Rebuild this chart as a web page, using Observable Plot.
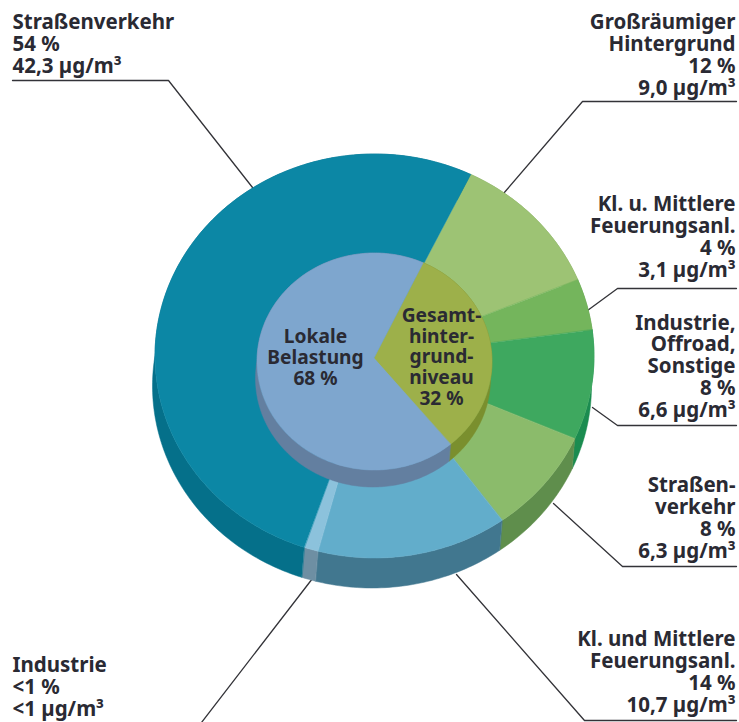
<!DOCTYPE html>
<html lang="de">
<head>
<meta charset="utf-8">
<title>Feinstaubbelastung nach Quellen</title>
<script src="https://cdn.jsdelivr.net/npm/d3@7"></script>
<script src="https://cdn.jsdelivr.net/npm/@observablehq/plot@0.6"></script>
<style>
  html, body { margin: 0; background: #fff; }
  svg { display: block; }
</style>
</head>
<body>
<div id="chart"></div>
<script>
// Source shares, clockwise from the upper right of the ring
const sourceIds = ["grossraum", "feuerungH", "industrieH", "verkehrH", "feuerungL", "industrieL", "verkehrL"];
const concentrations = [9.0, 3.1, 6.6, 6.3, 10.7, 0.8, 42.3];
const sourceLabels = [
  "Großräumiger\nHintergrund\n12 %\n9,0 µg/m³",
  "Kl. u. Mittlere\nFeuerungsanl.\n4 %\n3,1 µg/m³",
  "Industrie,\nOffroad,\nSonstige\n8 %\n6,6 µg/m³",
  "Straßen-\nverkehr\n8 %\n6,3 µg/m³",
  "Kl. und Mittlere\nFeuerungsanl.\n14 %\n10,7 µg/m³",
  "Industrie\n<1 %\n<1 µg/m³",
  "Straßenverkehr\n54 %\n42,3 µg/m³"
];
const groupIds = ["hintergrund", "lokal"];
const groupShares = [32, 68];
const groupLabels = ["Gesamt-\nhinter-\ngrund-\nniveau\n32 %", "Lokale\nBelastung\n68 %"];

// Styling and layout
const topColors  = ["#9dc374", "#74b55c", "#3ea85f", "#8bbb6b", "#62adcb", "#8cc2dc", "#0c87a5"];
const wallColors = ["#7fa65c", "#5a9a48", "#1b8c50", "#5f8e4c", "#41778f", "#6e8fa3", "#05708a"];
const groupTop   = ["#9db04a", "#7ea6ce"];
const groupWall  = ["#7a8f2e", "#637fa0"];
const ringStart = 26;
const discStart = 24.5;
const ink = "#2a2a33";

const ring  = {cx: 374.5, cy: 356,   rx: 219.5, ry: 202,   dx: -2.5, depth: 30};
const disc  = {cx: 374.5, cy: 361.5, rx: 117.5, ry: 108.5, dx: -1.5, depth: 17};
const apex  = {x: 374, y: 358};

// Turn a list of values into [start, end] angles around the ellipse
function spans(values, start) {
  const total = d3.sum(values);
  let a = start;
  return values.map(v => {
    const s = [a, a + v / total * 360];
    a = s[1];
    return s;
  });
}

// The near side of the tilted ring is slightly stretched by perspective
const foreshorten = deg => deg + 3 * (1 - Math.cos((deg - ringStart) * Math.PI / 180));

const project = (e, deg, dx = 0, dy = 0) => {
  const t = deg * Math.PI / 180;
  return {x: e.cx + dx + e.rx * Math.sin(t), y: e.cy + dy - e.ry * Math.cos(t)};
};

function wedgeRows(e, span, color, warp) {
  const n = Math.max(2, Math.ceil(span[1] - span[0]));
  return d3.range(n + 1).map(i => {
    const p = project(e, warp(span[0] + (span[1] - span[0]) * i / n));
    return {x1: apex.x, y1: apex.y, x2: p.x, y2: p.y, color};
  });
}

function wallRows(e, span, color, warp) {
  const n = Math.max(2, Math.ceil(span[1] - span[0]));
  return d3.range(n + 1).map(i => {
    const a = warp(span[0] + (span[1] - span[0]) * i / n);
    const p = project(e, a), q = project(e, a, e.dx, e.depth);
    return {x1: p.x, y1: p.y, x2: q.x, y2: q.y, color};
  });
}

const ringSpans = spans(concentrations, ringStart);
const discSpans = spans(groupShares, discStart);
const flat = d => d;

const ringWalls = ringSpans.flatMap((s, i) => wallRows(ring, s, wallColors[i], foreshorten));
const ringTops  = ringSpans.flatMap((s, i) => wedgeRows(ring, s, topColors[i], foreshorten));
const discWalls = discSpans.flatMap((s, i) => wallRows(disc, s, groupWall[i], flat));
const discTops  = discSpans.flatMap((s, i) => wedgeRows(disc, s, groupTop[i], flat));

// Leader lines running from each caption to its ring segment
const leaders = [
  {id: "verkehrL",   pts: [[12, 80], [168, 80], [252, 187]]},
  {id: "grossraum",  pts: [[736, 101], [582, 101], [503, 193]]},
  {id: "feuerungH",  pts: [[736, 288], [617, 288], [587, 310]]},
  {id: "industrieH", pts: [[736, 425], [617, 425], [592, 407]]},
  {id: "verkehrH",   pts: [[736, 566], [622, 566], [553, 503]]},
  {id: "feuerungL",  pts: [[736, 720], [584, 720], [456, 574]]},
  {id: "industrieL", pts: [[312, 578], [201, 722]]}
].flatMap(l => l.pts.map(([x, y]) => ({id: l.id, x, y})));

// Caption placement: last baseline and side of the page
const captions = sourceLabels.map((text, i) => ({
  text,
  x: [735, 735, 735, 735, 735, 12, 12][i],
  y: [94, 276, 416, 557, 711, 715, 72][i],
  anchor: i < 5 ? "end" : "start"
}));
const centerCaptions = [
  {text: groupLabels[0], x: 441, y: 404},
  {text: groupLabels[1], x: 315, y: 384}
];

const font = {fontFamily: "'Noto Sans', sans-serif", fontWeight: 700, fill: ink};
const caption = (rows, extra) => Plot.text(rows, {
  x: "x", y: "y", text: "text", lineAnchor: "bottom", lineHeight: 1.06, fontSize: 20.5, ...font, ...extra
});
const faces = rows => Plot.area(rows, {
  x1: "x1", y1: "y1", x2: "x2", y2: "y2", fill: "color", z: "color", stroke: "color", strokeWidth: 0.5
});

const chart = Plot.plot({
  width: 739,
  height: 722,
  margin: 0,
  axis: null,
  x: {domain: [0, 739], range: [0, 739]},
  y: {domain: [0, 722], range: [0, 722]},
  color: {type: "identity"},
  style: {background: "white"},
  marks: [
    Plot.line(leaders, {x: "x", y: "y", z: "id", stroke: "#333338", strokeWidth: 1.3, curve: "linear"}),
    faces(ringWalls),
    faces(ringTops),
    faces(discWalls),
    faces(discTops),
    caption(captions.filter(d => d.anchor === "end"), {textAnchor: "end"}),
    caption(captions.filter(d => d.anchor === "start"), {textAnchor: "start"}),
    caption(centerCaptions, {textAnchor: "middle", fontSize: 19.2, lineHeight: 1.07})
  ]
});
document.getElementById("chart").append(chart);
</script>
</body>
</html>
